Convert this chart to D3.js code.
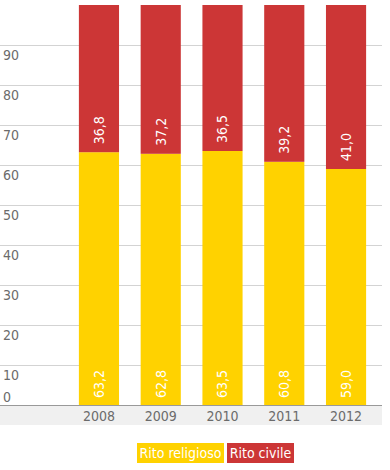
<!DOCTYPE html>
<html>
<head>
<meta charset="utf-8">
<script src="https://cdn.jsdelivr.net/npm/d3@7"></script>
<style>
  body { margin: 0; background: #fff; }
  svg { display: block; font-family: "Liberation Sans Narrow", "DejaVu Sans Condensed", sans-serif; }
</style>
</head>
<body>
<div id="wrapper"></div>
<script>
const years = ["2008", "2009", "2010", "2011", "2012"]
const religioso = [63.2, 62.8, 63.5, 60.8, 59.0]
const civile = [36.8, 37.2, 36.5, 39.2, 41.0]
const seriesNames = ["Rito religioso", "Rito civile"]
const yTicks = [0, 10, 20, 30, 40, 50, 60, 70, 80, 90]

const colors = ["#ffd200", "#cc3636"]

const dimensions = { width: 390, height: 470 }
const plot = { left: 0, right: 382, top: 5, bottom: 405 }

const svg = d3.select("#wrapper").append("svg")
    .attr("width", dimensions.width)
    .attr("height", dimensions.height)

const fmt = v => v.toFixed(1).replace(".", ",")

const yScale = d3.scaleLinear()
    .domain([0, 100])
    .range([plot.bottom, plot.top])

const xScale = d3.scaleBand()
    .domain(years)
    .range([48, 397])
    .paddingInner(0.35)
    .paddingOuter(0.5)

// x axis band
svg.append("rect")
    .attr("x", plot.left)
    .attr("y", plot.bottom)
    .attr("width", plot.right - plot.left)
    .attr("height", 20)
    .attr("fill", "#f0f0f0")

// gridlines
svg.append("g").selectAll("line")
    .data(yTicks.filter(d => d > 0))
    .join("line")
    .attr("x1", plot.left)
    .attr("x2", plot.right)
    .attr("y1", d => yScale(d) + 0.5)
    .attr("y2", d => yScale(d) + 0.5)
    .attr("stroke", "#d3d3d3")
    .attr("stroke-width", 1)

svg.append("g").selectAll("text")
    .data(yTicks)
    .join("text")
    .attr("x", 3)
    .attr("y", d => d === 0 ? yScale(d) - 3 : yScale(d) + 15)
    .attr("fill", "#6b6b6b")
    .style("font-size", "14px")
    .text(d => d)

const stacked = years.map((y, i) => ({ year: y, values: [religioso[i], civile[i]] }))

const groups = svg.append("g").selectAll("g")
    .data(stacked)
    .join("g")

groups.each(function (d) {
    const g = d3.select(this)
    let base = 0
    d.values.forEach((v, k) => {
        const y0 = base, y1 = base + v
        g.append("rect")
            .attr("x", xScale(d.year))
            .attr("y", yScale(y1))
            .attr("width", xScale.bandwidth())
            .attr("height", yScale(y0) - yScale(y1))
            .attr("fill", colors[k])
        const cx = xScale(d.year) + xScale.bandwidth() / 2
        const ty = k === 0 ? yScale(y0) - 7 : yScale(y0) - 8
        g.append("text")
            .attr("transform", `translate(${cx},${ty}) rotate(-90)`)
            .attr("dy", "0.35em")
            .attr("fill", "#fff")
            .style("font-size", "14px")
            .text(fmt(v))
        base = y1
    })
})

// baseline
svg.append("line")
    .attr("x1", plot.left)
    .attr("x2", plot.right)
    .attr("y1", plot.bottom + 0.5)
    .attr("y2", plot.bottom + 0.5)
    .attr("stroke", "#999")

const xAxis = svg.append("g")
    .attr("transform", `translate(0,${plot.bottom})`)
    .call(d3.axisBottom(xScale).tickSize(0).tickPadding(0))
xAxis.select(".domain").remove()
xAxis.selectAll("text")
    .attr("y", 16)
    .attr("dy", 0)
    .attr("fill", "#6b6b6b")
    .style("font-size", "14px")
    .style("font-family", "\"Liberation Sans Narrow\", \"DejaVu Sans Condensed\", sans-serif")

// legend
const legendX = [137, 227]
const legendW = [87, 67]
const legend = svg.append("g").selectAll("g")
    .data(seriesNames)
    .join("g")
    .attr("transform", (d, i) => `translate(${legendX[i]},443)`)
legend.append("rect")
    .attr("width", (d, i) => legendW[i])
    .attr("height", 20)
    .attr("fill", (d, i) => colors[i])
legend.append("text")
    .attr("x", (d, i) => legendW[i] / 2)
    .attr("y", 15)
    .attr("text-anchor", "middle")
    .attr("fill", "#fff")
    .style("font-size", "14px")
    .text(d => d)
</script>
</body>
</html>
